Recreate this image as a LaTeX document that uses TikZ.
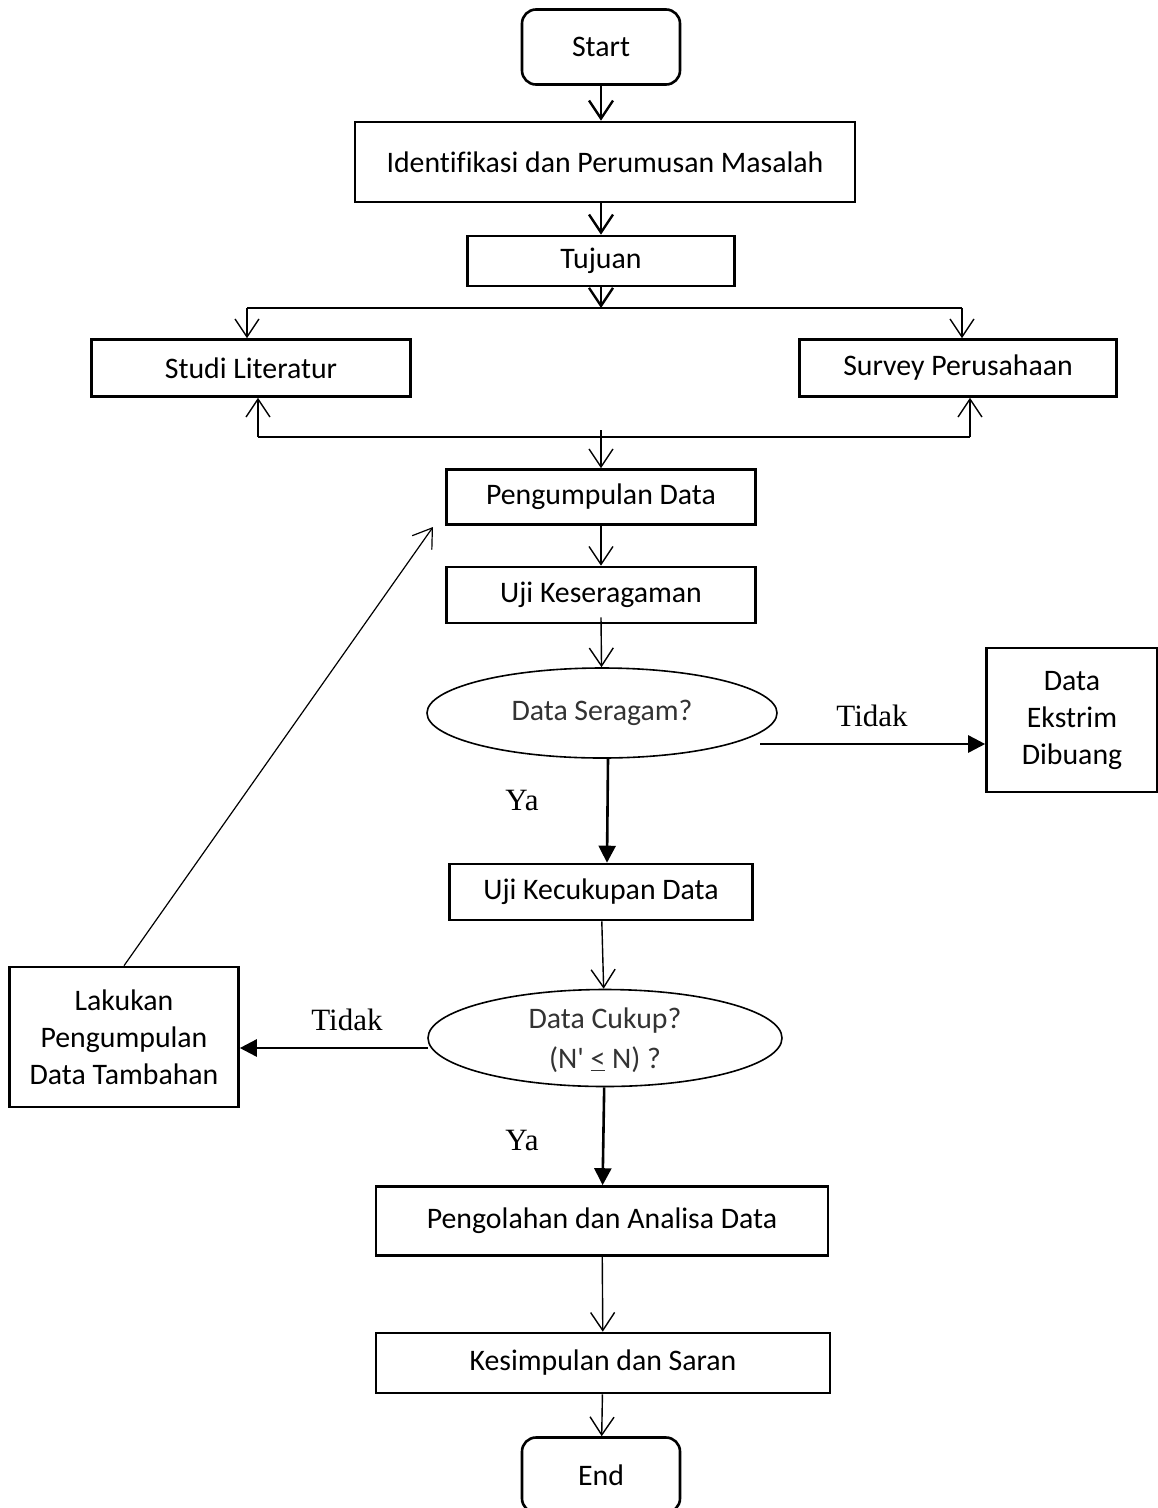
\documentclass[tikz,border=0pt]{standalone}
\usepackage{fontspec}
\setmainfont{Carlito}[Ligatures=NoCommon]
\newfontfamily\timesfont{Liberation Serif}
\usetikzlibrary{shapes.geometric,arrows.meta}

\begin{document}
\begin{tikzpicture}[x=1pt,y=-1pt,
    box/.style={draw, line width=2.6pt, inner sep=0pt, align=center, font=\fontsize{29.8}{37}\selectfont},
    term/.style={box, rounded corners=14pt, minimum width=158, minimum height=75},
    cond/.style={draw, ellipse, line width=1.6pt, inner sep=0pt, align=center, text=black!80, font=\fontsize{29.8}{40}\selectfont},
    arr/.style={line width=1.4pt, -{Straight Barb[length=18pt,width=24pt]}},
    barr/.style={line width=2.6pt, -{Triangle[length=17pt,width=17pt]}},
    lbl/.style={font=\timesfont\fontsize{31}{36}\selectfont}]
    \useasboundingbox (0,0) rectangle (1158,1508);

    \node[term] (start) at (601,47) {Start};
    \node[box, minimum width=500, minimum height=80] (ident) at (605,162) {Identifikasi dan Perumusan Masalah};
    \node[box, minimum width=267, minimum height=50] (tujuan) at (601,261) {Tujuan};
    \node[box, minimum width=319, minimum height=57] (studi) at (251,368) {Studi Literatur};
    \node[box, minimum width=317, minimum height=57] (survey) at (958,368) {Survey Perusahaan};
    \node[box, minimum width=309, minimum height=55] (kumpul) at (601,497) {Pengumpulan Data};
    \node[box, minimum width=309, minimum height=56] (seragam) at (601,595) {Uji Keseragaman};
    \node[cond, minimum width=350, minimum height=90] (cekseragam) at (602,713) {Data Seragam?};
    \node[box, minimum width=171, minimum height=144] (ekstrim) at (1072,720) {Data\\Ekstrim\\Dibuang};
    \node[box, minimum width=303, minimum height=56] (cukup) at (601,892) {Uji Kecukupan Data};
    \node[cond, minimum width=354, minimum height=97] (cekcukup) at (605,1038) {\raisebox{-9pt}[28pt][28pt]{\begin{tabular}{@{}c@{}}Data Cukup?\\(N\textquotesingle\ \underline{<} N) ?\end{tabular}}};
    \node[box, minimum width=229, minimum height=140] (tambah) at (124,1037) {Lakukan\\Pengumpulan\\Data Tambahan};
    \node[box, minimum width=452, minimum height=69] (olah) at (602,1221) {Pengolahan dan Analisa Data};
    \node[box, minimum width=454, minimum height=60] (simpul) at (603,1363) {Kesimpulan dan Saran};
    \node[term] (end) at (601,1475) {End};

    \node[lbl] (tidak1) at (872,716) {Tidak};
    \node[lbl] (ya1) at (522,800) {Ya};
    \node[lbl] (tidak2) at (347,1020) {Tidak};
    \node[lbl] (ya2) at (522,1140) {Ya};

    \coordinate (split) at (601,308);
    \coordinate (sl) at (247,308);
    \coordinate (sr) at (962,308);
    \coordinate (ml) at (258,437);
    \coordinate (mr) at (970,437);
    \coordinate (merge) at (601,430);
    \coordinate (no1) at (760,744);
    \coordinate (no2) at (428,1048);
    \coordinate (back) at (433,527);

    \draw[arr, line width=2.4pt] (start) -- (start |- ident.north);
    \draw[arr, line width=2.4pt] (tujuan |- ident.south) -- (tujuan);
    \draw[arr, line width=2.4pt] (tujuan) -- (split);
    \draw[line width=1.4pt] (sl) -- (sr);
    \draw[arr] (sl) -- (sl |- studi.north);
    \draw[arr] (sr) -- (sr |- survey.north);
    \draw[line width=1.4pt] (ml) -- (mr);
    \draw[arr] (ml) -- (ml |- studi.south);
    \draw[arr] (mr) -- (mr |- survey.south);
    \draw[arr] (merge) -- (kumpul);
    \draw[arr] (kumpul) -- (seragam);
    \draw[arr] ([yshift=7pt]seragam.south) -- (cekseragam);
    \draw[barr] ([xshift=6pt]cekseragam.south) -- ([xshift=6pt]cukup.north);
    \draw[barr] (no1) -- (no1 -| ekstrim.west);
    \draw[arr] (cukup) -- (cekcukup);
    \draw[barr] (no2) -- (no2 -| tambah.east);
    \draw[arr, line width=1.2pt] (tambah.north) -- (back);
    \draw[barr] (cekcukup) -- (olah);
    \draw[arr] (olah) -- (simpul);
    \draw[arr] (simpul) -- (end);
\end{tikzpicture}
\end{document}
